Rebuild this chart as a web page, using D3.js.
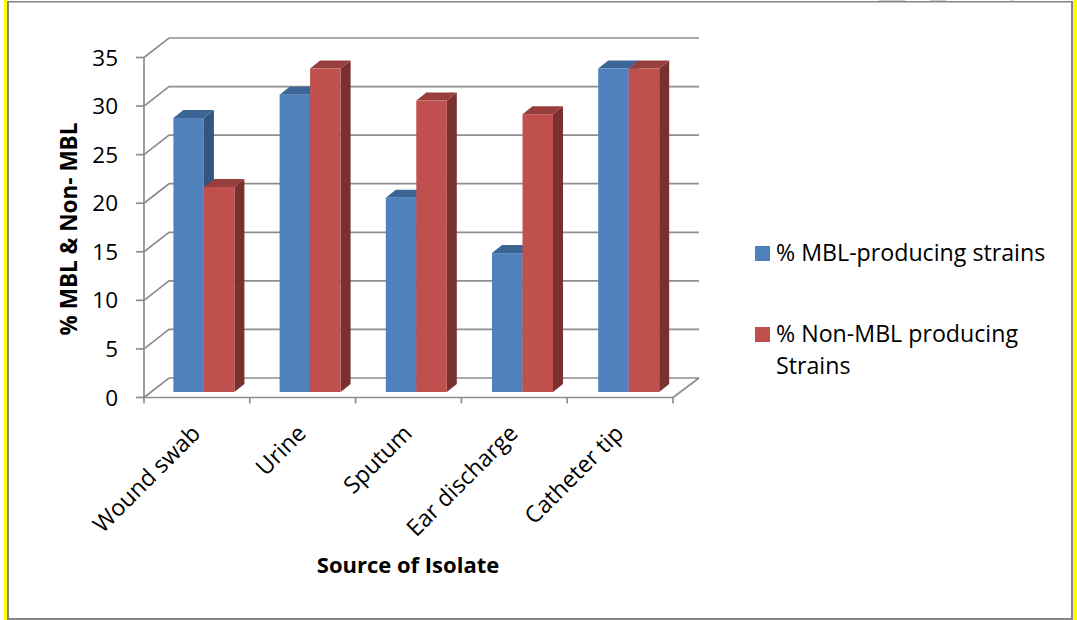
<!DOCTYPE html>
<html>
<head>
<meta charset="utf-8">
<script src="https://cdn.jsdelivr.net/npm/d3@7"></script>
<style>
html,body{margin:0;padding:0;background:#fff;overflow:hidden}
svg{display:block}
text{font-family:"Open Sans",Lato,sans-serif;fill:#000}
</style>
</head>
<body>
<div id="chart"></div>
<script>
const categories = ["Wound swab", "Urine", "Sputum", "Ear discharge", "Catheter tip"];
const mblValues = [28.2, 30.6, 20, 14.3, 33.3];
const nonMblValues = [21.1, 33.3, 30, 28.6, 33.3];
const yTicks = [0, 5, 10, 15, 20, 25, 30, 35];
const seriesNames = ["% MBL-producing strains", "% Non-MBL producing", "Strains"];

const W = 1077, H = 620;
const svg = d3.select("#chart").append("svg").attr("width", W).attr("height", H);

// Page frame: yellow side rules, grey box
const frame = svg.append("g");
frame.append("rect").attr("x", 4).attr("y", 0).attr("width", 3).attr("height", H).attr("fill", "#ffff00");
frame.append("rect").attr("x", 1073).attr("y", 0).attr("width", 4).attr("height", H).attr("fill", "#ffff00");
frame.append("rect").attr("x", 7).attr("y", 1).attr("width", 2).attr("height", H - 1).attr("fill", "#858585");
frame.append("rect").attr("x", 1071).attr("y", 1).attr("width", 2).attr("height", H - 1).attr("fill", "#858585");
frame.append("rect").attr("x", 7).attr("y", 1).attr("width", 1066).attr("height", 1.5).attr("fill", "#858585");
frame.append("rect").attr("x", 7).attr("y", 618).attr("width", 1066).attr("height", 2).attr("fill", "#858585");
[[879, 26], [930, 16], [1010, 3]].forEach(([x, w]) =>
  frame.append("rect").attr("x", x).attr("y", 0).attr("width", w).attr("height", 1).attr("fill", "#cfcfcf"));

// Scales for the front plane of the 3-D plot box
const x = d3.scaleBand().domain(categories).range([144, 673]);
const y = d3.scaleLinear().domain([0, 35]).range([397.5, 57.5]);
const depthX = 25, depthY = -19.5;

// Bars stand a little behind the front plane, so their spacing runs slightly wider
const barGroup = d3.scaleBand().domain(categories).range([144.2, 675.2]);
const barBase = -5.5;
const inner = d3.scaleBand().domain([0, 1]).range([29.2, 90.2]);
const sideX = 10, sideY = -8;

const gridColor = "#8e8e8e";
const grid = svg.append("g").attr("fill", "none").attr("stroke", gridColor).attr("stroke-width", 1.7);

grid.selectAll("path.wall").data(yTicks).join("path").attr("class", "wall")
  .attr("d", t => {
    const p = d3.path();
    p.moveTo(x.range()[0], y(t));
    p.lineTo(x.range()[0] + depthX, y(t) + depthY);
    p.lineTo(x.range()[1] + depthX + 1, y(t) + depthY);
    return p.toString();
  });

// Vertical axis, floor edge and tick marks
const axisG = svg.append("g").attr("fill", "none").attr("stroke", gridColor).attr("stroke-width", 1.7);
axisG.append("line").attr("x1", 144).attr("x2", 144).attr("y1", y(35)).attr("y2", y(0));
axisG.append("line").attr("x1", x.range()[0]).attr("x2", x.range()[1]).attr("y1", y(0)).attr("y2", y(0));
axisG.append("line").attr("x1", x.range()[1]).attr("x2", x.range()[1] + depthX + 1).attr("y1", y(0)).attr("y2", y(0) + depthY);
axisG.selectAll("line.ytick").data(yTicks).join("line").attr("class", "ytick")
  .attr("x1", 136).attr("x2", 144).attr("y1", d => y(d)).attr("y2", d => y(d));
axisG.selectAll("line.xtick").data([...categories.map(c => x(c)), x.range()[1]]).join("line").attr("class", "xtick")
  .attr("x1", d => d).attr("x2", d => d).attr("y1", y(0)).attr("y2", y(0) + 6);

// 3-D bars: front, top and side faces
const palettes = [
  { front: "#4f81bd", top: "#3c6595", side: "#34557c" },
  { front: "#c0504d", top: "#963f3c", side: "#7a302e" }
];
const rows = [];
categories.forEach((c, i) => {
  rows.push({ c, s: 0, v: mblValues[i] });
  rows.push({ c, s: 1, v: nonMblValues[i] });
});
const bars = svg.append("g").selectAll("g").data(rows).join("g");
bars.each(function (d) {
  const g = d3.select(this);
  const pal = palettes[d.s];
  const x0 = barGroup(d.c) + inner(d.s), w = inner.bandwidth();
  const yb = y(0) + barBase, yt = y(d.v) + barBase;
  g.append("path").attr("fill", pal.side)
    .attr("d", `M${x0 + w},${yt}L${x0 + w + sideX},${yt + sideY}L${x0 + w + sideX},${yb + sideY}L${x0 + w},${yb}Z`);
  g.append("path").attr("fill", pal.top)
    .attr("d", `M${x0},${yt}L${x0 + sideX},${yt + sideY}L${x0 + w + sideX},${yt + sideY}L${x0 + w},${yt}Z`);
  g.append("rect").attr("x", x0).attr("y", yt).attr("width", w).attr("height", yb - yt).attr("fill", pal.front);
});

// Tick labels
svg.append("g").selectAll("text").data(yTicks).join("text")
  .attr("x", 118).attr("y", d => y(d)).attr("dy", "0.36em").attr("text-anchor", "end")
  .attr("font-size", 22.5).text(d => d);

svg.append("g").selectAll("text").data(categories).join("text")
  .attr("transform", d => `translate(${x(d) + x.bandwidth() / 2 - 5},${425}) rotate(-45)`)
  .attr("text-anchor", "end").attr("dy", "0.6em")
  .attr("font-size", 23.2).text(d => d);

// Axis titles
svg.append("text").attr("transform", "translate(77,229) rotate(-90)")
  .attr("text-anchor", "middle").attr("font-size", 22.5).attr("font-weight", 700)
  .text("% MBL & Non- MBL");
svg.append("text").attr("x", 408).attr("y", 573)
  .attr("text-anchor", "middle").attr("font-size", 22).attr("font-weight", 700)
  .text("Source of Isolate");

// Legend
const legend = svg.append("g");
legend.append("rect").attr("x", 755).attr("y", 246).attr("width", 15).attr("height", 15).attr("fill", palettes[0].front);
legend.append("text").attr("x", 776).attr("y", 261).attr("font-size", 23.2).text(seriesNames[0]);
legend.append("rect").attr("x", 755).attr("y", 327).attr("width", 15).attr("height", 15).attr("fill", palettes[1].front);
legend.append("text").attr("x", 776).attr("y", 342).attr("font-size", 23.2).text(seriesNames[1]);
legend.append("text").attr("x", 776).attr("y", 374).attr("font-size", 23.2).text(seriesNames[2]);
</script>
</body>
</html>
